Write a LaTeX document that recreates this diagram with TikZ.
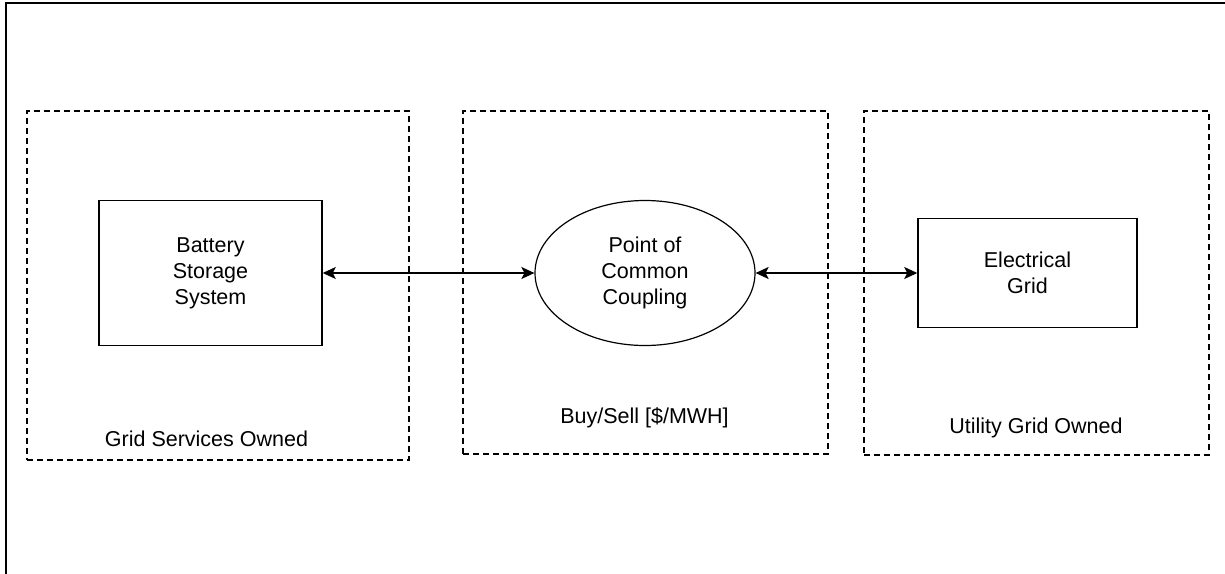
\documentclass[tikz,border=0pt]{standalone}
\usepackage{fontspec}
\setmainfont{Liberation Sans}
\usetikzlibrary{arrows.meta,shapes.geometric}
\tikzset{
  region/.style={draw, line width=1.4pt, dash pattern=on 6pt off 4pt, minimum width=#1},
  solidbox/.style={draw, line width=1.5pt, rectangle, align=center, inner sep=0pt},
  oval/.style={draw, line width=1.2pt, ellipse, align=center, inner sep=0pt},
  txt/.style={font=\fontsize{21.5}{26}\selectfont, text=black},
  link/.style={line width=1.4pt, {Stealth[length=13pt,width=12pt,inset=3pt]}-{Stealth[length=13pt,width=12pt,inset=3pt]}},
  frame/.style={line width=2pt}
}
\begin{document}
\begin{tikzpicture}[x=1pt,y=-1pt]
\useasboundingbox (0,0) rectangle (1225,573);
% outer frame
\coordinate (fbl) at (6,575);
\coordinate (ftl) at (6,3);
\coordinate (ftr) at (1227,3);
\draw[frame] (fbl) -- (ftl) -- (ftr);
% dashed regions
\node[region=382pt, minimum height=349pt] (left) at (218,285.5) {};
\node[region=365pt, minimum height=343pt] (mid) at (645.5,282.5) {};
\node[region=345pt, minimum height=344pt] (right) at (1036.5,283) {};
% region labels
\node[txt, anchor=base] (lleft) at (206.5,446) {Grid Services Owned};
\node[txt, anchor=base] (lmid) at (644.5,423) {Buy/Sell [\$/MWH]};
\node[txt, anchor=base] (lright) at (1036,433) {Utility Grid Owned};
% main nodes
\node[solidbox, txt, minimum width=223pt, minimum height=145pt] (bat) at (210.5,273) {Battery\\Storage\\System};
\node[oval, txt, minimum width=220pt, minimum height=145pt] (pcc) at (645,273) {Point of\\Common\\Coupling};
\node[solidbox, txt, minimum width=219pt, minimum height=109pt] (grid) at (1027.5,273) {Electrical\\Grid};
% connectors
\draw[link] (bat.east) -- (pcc.west);
\draw[link] (pcc.east) -- (grid.west);
\end{tikzpicture}
\end{document}
